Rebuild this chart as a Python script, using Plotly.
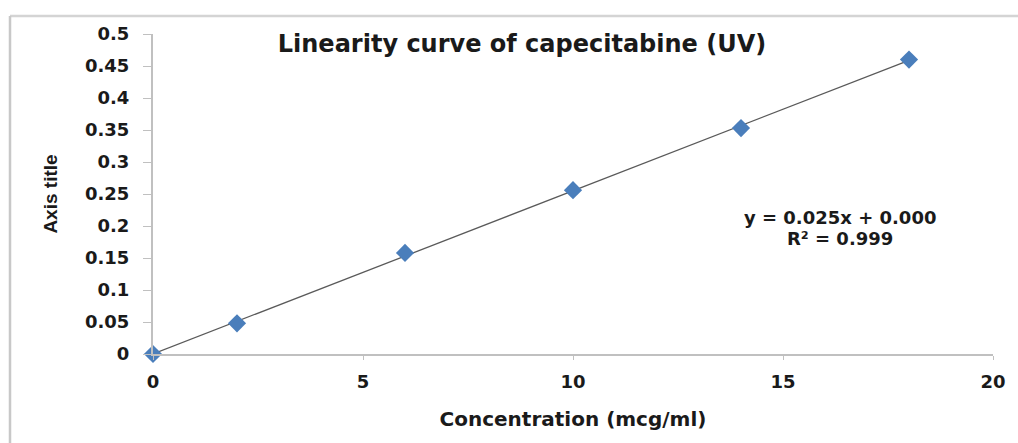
import numpy as np
import plotly.graph_objects as go

# ---- data ----
concentration = [0, 2, 6, 10, 14, 18]
absorbance = [0.0, 0.048, 0.158, 0.256, 0.353, 0.460]
x_ticks = [0, 5, 10, 15, 20]
y_ticks = [0, 0.05, 0.1, 0.15, 0.2, 0.25, 0.3, 0.35, 0.4, 0.45, 0.5]
title_text = "Linearity curve of capecitabine (UV)"
x_title = "Concentration (mcg/ml)"
y_title = "Axis title"
eq_line1 = "y = 0.025x + 0.000"
eq_line2 = "R² = 0.999"

# ---- layout geometry (pixels) ----
W, H = 1018, 443
L, R, T, B = 153, 25, 34, 89
pw, ph = W - L - R, H - T - B


def px(xp):
    return (xp - L) / pw


def py(yp):
    return (H - B - yp) / ph


# linear trendline fitted from data
slope, intercept = np.polyfit(concentration, absorbance, 1)
fit_x = [min(concentration), max(concentration)]
fit_y = [slope * v + intercept for v in fit_x]

FONT = "DejaVu Sans"
TXT = "#1a1a1a"

fig = go.Figure()
fig.add_trace(go.Scatter(
    x=fit_x, y=fit_y, mode="lines",
    line=dict(color="#5a5a5a", width=1.3),
    showlegend=False, hoverinfo="skip",
))
fig.add_trace(go.Scatter(
    x=concentration, y=absorbance, mode="markers",
    marker=dict(symbol="diamond", size=14, color="#4a7ebb"),
    cliponaxis=False, showlegend=False,
))

fig.update_layout(
    width=W, height=H,
    margin=dict(l=L, r=R, t=T, b=B, autoexpand=False),
    paper_bgcolor="white", plot_bgcolor="white",
    font=dict(family=FONT, color=TXT),
    title=dict(
        text=title_text, xref="container", x=522 / W, xanchor="center",
        yref="container", y=1 - 44 / H, yanchor="middle",
        font=dict(family=FONT, size=24, weight="bold", color=TXT),
    ),
    xaxis=dict(
        range=[0, 20], tickvals=x_ticks, ticktext=[str(v) for v in x_ticks],
        showgrid=False, zeroline=False,
        showline=True, linecolor="#c0c0c0", linewidth=2,
        ticks="outside", ticklen=4, tickcolor="#c0c0c0", tickwidth=1,
        ticklabelstandoff=6,
        tickfont=dict(family=FONT, size=18, weight="bold", color=TXT),
        title=dict(text=x_title, standoff=21,
                   font=dict(family=FONT, size=20, weight="bold", color=TXT)),
        fixedrange=True,
    ),
    yaxis=dict(
        range=[0, 0.5], tickvals=y_ticks,
        ticktext=[("%g" % v) for v in y_ticks],
        showgrid=False, zeroline=False,
        showline=True, linecolor="#c0c0c0", linewidth=2,
        ticks="outside", ticklen=8, tickcolor="#c0c0c0", tickwidth=1,
        ticklabelstandoff=10,
        tickfont=dict(family=FONT, size=18, weight="bold", color=TXT),
        title=dict(text=y_title, standoff=22,
                   font=dict(family="Liberation Sans, Arial, sans-serif",
                             size=19, weight="bold", color=TXT)),
        fixedrange=True,
    ),
    annotations=[
        dict(text=eq_line1, xref="paper", yref="paper", x=px(840), y=py(217),
             xanchor="center", yanchor="middle", showarrow=False,
             font=dict(family=FONT, size=18, weight="bold", color=TXT)),
        dict(text=eq_line2, xref="paper", yref="paper", x=px(840), y=py(238),
             xanchor="center", yanchor="middle", showarrow=False,
             font=dict(family=FONT, size=18, weight="bold", color=TXT)),
    ],
    shapes=[
        dict(type="line", xref="paper", yref="paper",
             x0=px(10), x1=px(1030), y0=py(16), y1=py(16),
             line=dict(color="#d4d4d4", width=2.5)),
        dict(type="line", xref="paper", yref="paper",
             x0=px(10), x1=px(10), y0=py(16), y1=py(460),
             line=dict(color="#c8c8c8", width=2.5)),
    ],
)

fig.write_html("out.html", config={"displayModeBar": False})
